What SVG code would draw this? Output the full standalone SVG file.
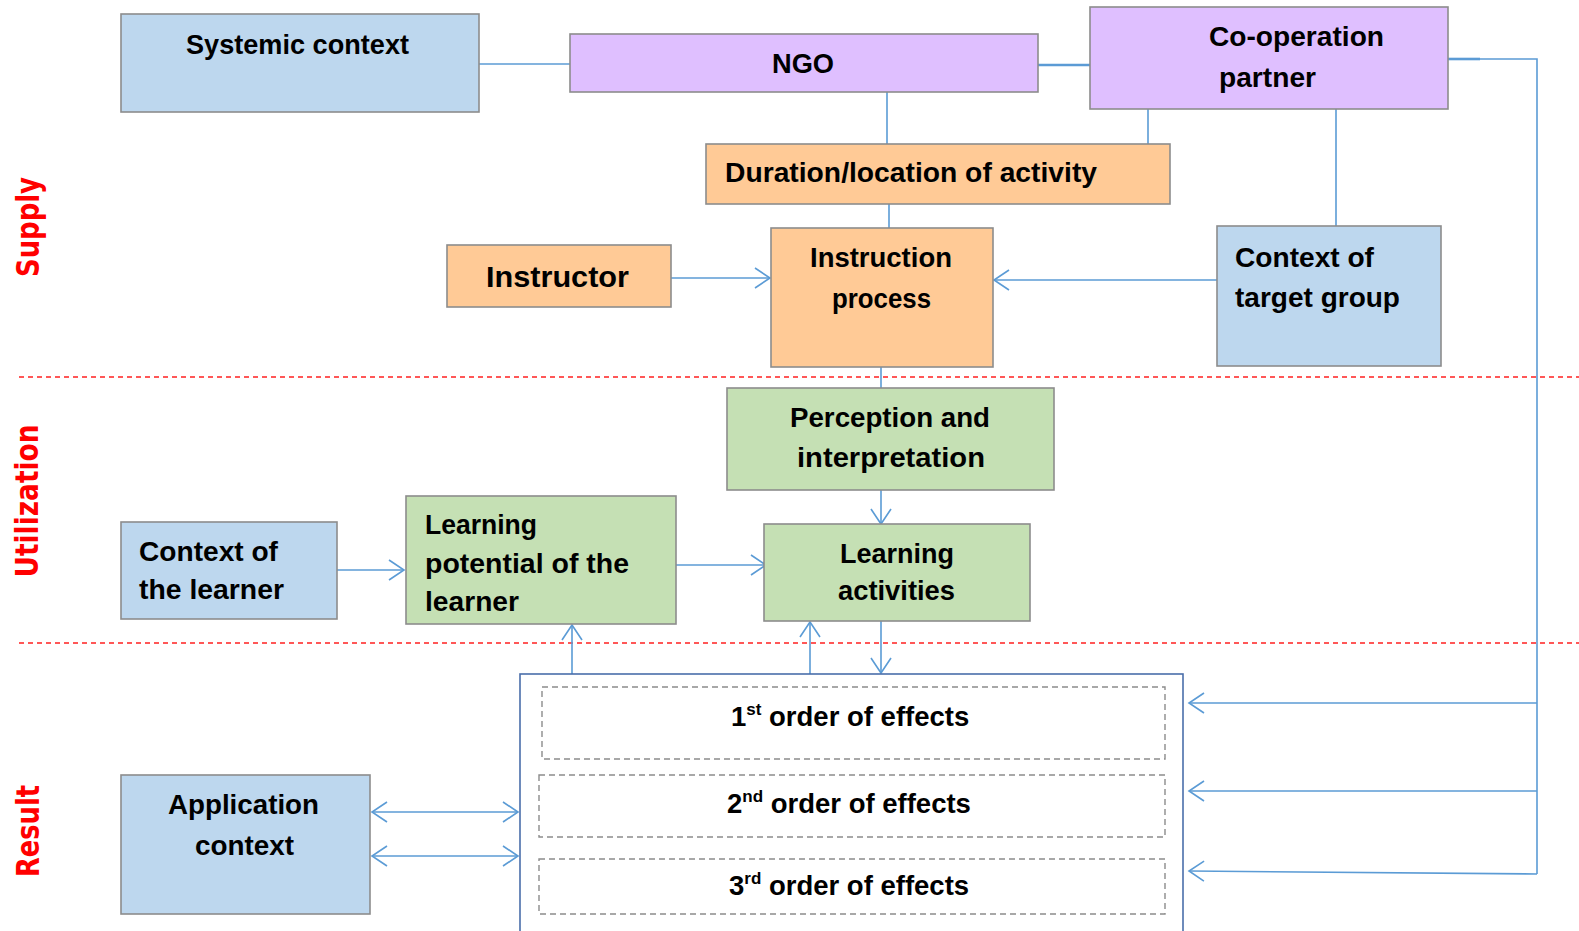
<svg xmlns="http://www.w3.org/2000/svg" width="1579" height="931" viewBox="0 0 1579 931">
  <defs>
    <style>
      .box { stroke: #8c8c8c; stroke-width: 1.6; }
      .blue { fill: #bdd7ee; }
      .purple { fill: #dfbfff; }
      .orange { fill: #ffca96; }
      .green { fill: #c5e0b4; }
      .lbl { font-family: "Liberation Sans", Arial, sans-serif; font-weight: bold; font-size: 27.5px; fill: #000; }
      .sup { font-size: 17px; }
      .phase { font-family: "DejaVu Sans", Verdana, sans-serif; font-weight: bold; font-size: 32px; fill: #ff0000; text-anchor: middle; }
      .sep { stroke: #ff2020; stroke-width: 1.6; stroke-dasharray: 5 4; fill: none; }
      .conn { stroke: #5b9bd5; stroke-width: 1.6; fill: none; }
      .thick { stroke-width: 2.6; }
      .effect { fill: none; stroke: #8c8c8c; stroke-width: 1.4; stroke-dasharray: 6 4; }
    </style>
    <marker id="open" markerUnits="userSpaceOnUse" markerWidth="20" markerHeight="24" viewBox="-16 -12 20 24" refX="0" refY="0" orient="auto-start-reverse">
      <path d="M-15,-10 L0,0 L-15,10" fill="none" stroke="#5b9bd5" stroke-width="1.6"/>
    </marker>
  </defs>

  <rect width="1579" height="931" fill="#ffffff"/>

  <!-- phase labels -->
  <g id="phases">
    <text class="phase" transform="translate(39,227) rotate(-90)" textLength="100" lengthAdjust="spacingAndGlyphs">Supply</text>
    <text class="phase" transform="translate(38,501) rotate(-90)" textLength="153" lengthAdjust="spacingAndGlyphs">Utilization</text>
    <text class="phase" transform="translate(39,831) rotate(-90)" textLength="92" lengthAdjust="spacingAndGlyphs">Result</text>
  </g>

  <!-- phase separators -->
  <g id="separators">
    <line class="sep" x1="19" y1="377" x2="1579" y2="377"/>
    <line class="sep" x1="19" y1="643" x2="1579" y2="643"/>
  </g>

  <!-- connectors -->
  <g id="connectors">
    <path class="conn" d="M479,64 H570"/>
    <path class="conn thick" d="M1038,65 H1090"/>
    <path class="conn thick" d="M1448,59 H1480"/>
    <path class="conn" d="M1480,59 H1537 V874"/>
    <path class="conn" d="M1537,703 H1189" marker-end="url(#open)"/>
    <path class="conn" d="M1537,791 H1189" marker-end="url(#open)"/>
    <path class="conn" d="M1537,874 L1189,871" marker-end="url(#open)"/>
    <path class="conn" d="M887,92 V144"/>
    <path class="conn" d="M1148,109 V144"/>
    <path class="conn" d="M1336,109 V226"/>
    <path class="conn" d="M889,204 V228"/>
    <path class="conn" d="M671,278 H770" marker-end="url(#open)"/>
    <path class="conn" d="M1217,280 H994" marker-end="url(#open)"/>
    <path class="conn" d="M881,367 V388"/>
    <path class="conn" d="M881,490 V524" marker-end="url(#open)"/>
    <path class="conn" d="M337,570 H404" marker-end="url(#open)"/>
    <path class="conn" d="M676,565 H766" marker-end="url(#open)"/>
    <path class="conn" d="M881,621 V673" marker-end="url(#open)"/>
    <path class="conn" d="M810,674 V622" marker-end="url(#open)"/>
    <path class="conn" d="M572,674 V625" marker-end="url(#open)"/>
    <path class="conn" d="M372,812 H518" marker-start="url(#open)" marker-end="url(#open)"/>
    <path class="conn" d="M372,856 H518" marker-start="url(#open)" marker-end="url(#open)"/>
  </g>

  <!-- supply -->
  <g id="systemic-context">
    <rect class="box blue" x="121" y="14" width="358" height="98"/>
    <text class="lbl" x="186" y="54" textLength="223" lengthAdjust="spacingAndGlyphs">Systemic context</text>
  </g>
  <g id="ngo">
    <rect class="box purple" x="570" y="34" width="468" height="58"/>
    <text class="lbl" x="772" y="73" textLength="62" lengthAdjust="spacingAndGlyphs">NGO</text>
  </g>
  <g id="cooperation-partner">
    <rect class="box purple" x="1090" y="7" width="358" height="102"/>
    <text class="lbl" x="1209" y="46" textLength="175" lengthAdjust="spacingAndGlyphs">Co-operation</text>
    <text class="lbl" x="1219" y="87" textLength="97" lengthAdjust="spacingAndGlyphs">partner</text>
  </g>
  <g id="duration-location">
    <rect class="box orange" x="706" y="144" width="464" height="60"/>
    <text class="lbl" x="725" y="182" textLength="372" lengthAdjust="spacingAndGlyphs">Duration/location of activity</text>
  </g>
  <g id="instruction-process">
    <rect class="box orange" x="771" y="228" width="222" height="139"/>
    <text class="lbl" x="810" y="267" textLength="142" lengthAdjust="spacingAndGlyphs">Instruction</text>
    <text class="lbl" x="832" y="308" textLength="99" lengthAdjust="spacingAndGlyphs">process</text>
  </g>
  <g id="instructor">
    <rect class="box orange" x="447" y="245" width="224" height="62"/>
    <text class="lbl" x="486" y="287" style="font-size:30px" textLength="143" lengthAdjust="spacingAndGlyphs">Instructor</text>
  </g>
  <g id="context-target-group">
    <rect class="box blue" x="1217" y="226" width="224" height="140"/>
    <text class="lbl" x="1235" y="267" textLength="139" lengthAdjust="spacingAndGlyphs">Context of</text>
    <text class="lbl" x="1235" y="307" textLength="165" lengthAdjust="spacingAndGlyphs">target group</text>
  </g>

  <!-- utilization -->
  <g id="perception">
    <rect class="box green" x="727" y="388" width="327" height="102"/>
    <text class="lbl" x="790" y="427" textLength="200" lengthAdjust="spacingAndGlyphs">Perception and</text>
    <text class="lbl" x="797" y="467" textLength="188" lengthAdjust="spacingAndGlyphs">interpretation</text>
  </g>
  <g id="learning-activities">
    <rect class="box green" x="764" y="524" width="266" height="97"/>
    <text class="lbl" x="840" y="563" textLength="114" lengthAdjust="spacingAndGlyphs">Learning</text>
    <text class="lbl" x="838" y="600" textLength="117" lengthAdjust="spacingAndGlyphs">activities</text>
  </g>
  <g id="context-learner">
    <rect class="box blue" x="121" y="522" width="216" height="97"/>
    <text class="lbl" x="139" y="561" textLength="139" lengthAdjust="spacingAndGlyphs">Context of</text>
    <text class="lbl" x="139" y="599" textLength="145" lengthAdjust="spacingAndGlyphs">the learner</text>
  </g>
  <g id="learning-potential">
    <rect class="box green" x="406" y="496" width="270" height="128"/>
    <text class="lbl" x="425" y="534" textLength="112" lengthAdjust="spacingAndGlyphs">Learning</text>
    <text class="lbl" x="425" y="573" textLength="204" lengthAdjust="spacingAndGlyphs">potential of the</text>
    <text class="lbl" x="425" y="611" textLength="94" lengthAdjust="spacingAndGlyphs">learner</text>
  </g>

  <!-- result -->
  <g id="application-context">
    <rect class="box blue" x="121" y="775" width="249" height="139"/>
    <text class="lbl" x="168" y="814" textLength="151" lengthAdjust="spacingAndGlyphs">Application</text>
    <text class="lbl" x="195" y="855" textLength="99" lengthAdjust="spacingAndGlyphs">context</text>
  </g>
  <g id="effects">
    <rect x="520" y="674" width="663" height="275" fill="#ffffff" stroke="#4a6eaa" stroke-width="1.6"/>
    <rect class="effect" x="542" y="687" width="623" height="72"/>
    <rect class="effect" x="539" y="775" width="626" height="62"/>
    <rect class="effect" x="539" y="859" width="626" height="55"/>
    <text class="lbl" x="731" y="726">1<tspan class="sup" dy="-11">st</tspan><tspan dy="11"> order of effects</tspan></text>
    <text class="lbl" x="727" y="813">2<tspan class="sup" dy="-11">nd</tspan><tspan dy="11"> order of effects</tspan></text>
    <text class="lbl" x="729" y="895">3<tspan class="sup" dy="-11">rd</tspan><tspan dy="11"> order of effects</tspan></text>
  </g>
</svg>
